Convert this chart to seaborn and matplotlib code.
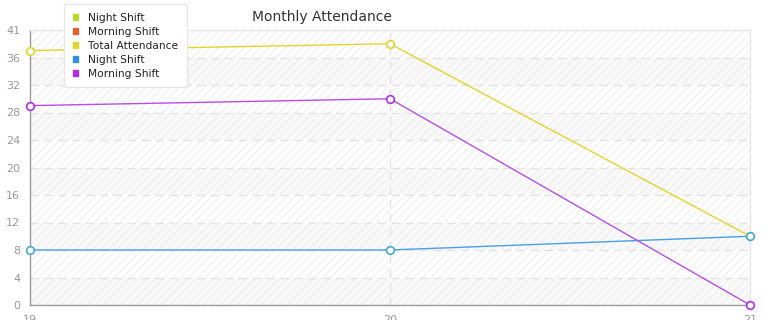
import matplotlib
matplotlib.use("Agg")
import matplotlib.pyplot as plt
import seaborn as sns
import pandas as pd
from matplotlib.patches import Patch

months = [19, 20, 21]
night_shift = [8, 8, 10]
morning_shift = [29, 30, 0]
total_attendance = [37, 38, 10]
y_ticks = [0, 4, 8, 12, 16, 20, 24, 28, 32, 36, 40]
y_tick_labels = ["0", "4", "8", "12", "16", "20", "24", "28", "32", "36", "41"]
legend_labels = ["Night Shift", "Morning Shift", "Total Attendance", "Night Shift", "Morning Shift"]
legend_colors = ["#bcd62a", "#e0622a", "#e2d42c", "#2f8fe0", "#b12fe0"]

sns.set_style("white")
plt.rcParams["font.family"] = ["DejaVu Sans"]
plt.rcParams["hatch.linewidth"] = 0.8

fig = plt.figure(figsize=(7.65, 3.2), dpi=100)
ax = fig.add_axes([30 / 765, 15 / 320, 720 / 765, 275 / 320])

# background bands and hatch
ax.set_facecolor("white")
for i in range(0, len(y_ticks) - 1):
    fc = "#f9f9f9" if i % 2 == 0 else "white"
    ax.axhspan(y_ticks[i], y_ticks[i + 1], facecolor=fc, edgecolor="#efefef",
               hatch="////", lw=0, zorder=0)

df = pd.DataFrame({"month": months, "total": total_attendance,
                   "night": night_shift, "morning": morning_shift})

series = [("total", "#e2d42c", "#e2d42c"), ("night", "#4a9ee6", "#48a8c8"),
          ("morning", "#b64fe6", "#b12fe0")]
for col, lc, mc in series:
    sns.lineplot(data=df, x="month", y=col, ax=ax, color=lc, lw=1.0,
                 marker="o", markersize=5.5, markerfacecolor="white",
                 markeredgecolor=mc, markeredgewidth=1.2, clip_on=False, zorder=3)

ax.set_xlim(19, 21)
ax.set_ylim(0, 40)
ax.set_yticks(y_ticks)
ax.set_yticklabels(y_tick_labels)
ax.set_xticks(months)
ax.set_xticklabels([str(m) for m in months])
ax.set_xlabel("")
ax.set_ylabel("")

for yt in y_ticks[1:-1]:
    ax.axhline(yt, color="#e3e3e3", lw=1, ls=(0, (6, 4)), zorder=1)
ax.axvline(20, color="#e3e3e3", lw=1, ls=(0, (6, 4)), zorder=1)

ax.tick_params(axis="both", colors="#999999", labelcolor="#999999", labelsize=8,
               length=5, width=1, direction="out")
ax.tick_params(axis="x", pad=2)
ax.tick_params(axis="y", pad=2)
for s in ["left", "bottom"]:
    ax.spines[s].set_color("#999999")
    ax.spines[s].set_linewidth(1)
for s in ["top", "right"]:
    ax.spines[s].set_color("#e6e6e6")
    ax.spines[s].set_linewidth(1)

fig.text(322 / 765, 1 - 17 / 320, "Monthly Attendance", ha="center", va="center",
         fontsize=10, color="#333333")

# legend
handles = [Patch(facecolor=c, edgecolor=c) for c in legend_colors]
leg = fig.legend(handles, legend_labels, loc="upper left",
                 bbox_to_anchor=(64 / 765, 1 - 4 / 320), frameon=True, fontsize=7.7,
                 handlelength=0.55, handleheight=0.55, handletextpad=0.9,
                 labelspacing=0.38, borderpad=0.8, borderaxespad=0, fancybox=True,
                 framealpha=1)
leg.get_frame().set_edgecolor("#e6e6e6")
leg.get_frame().set_linewidth(1)
for t in leg.get_texts():
    t.set_color("#222222")

fig.savefig("out.png", dpi=100)
